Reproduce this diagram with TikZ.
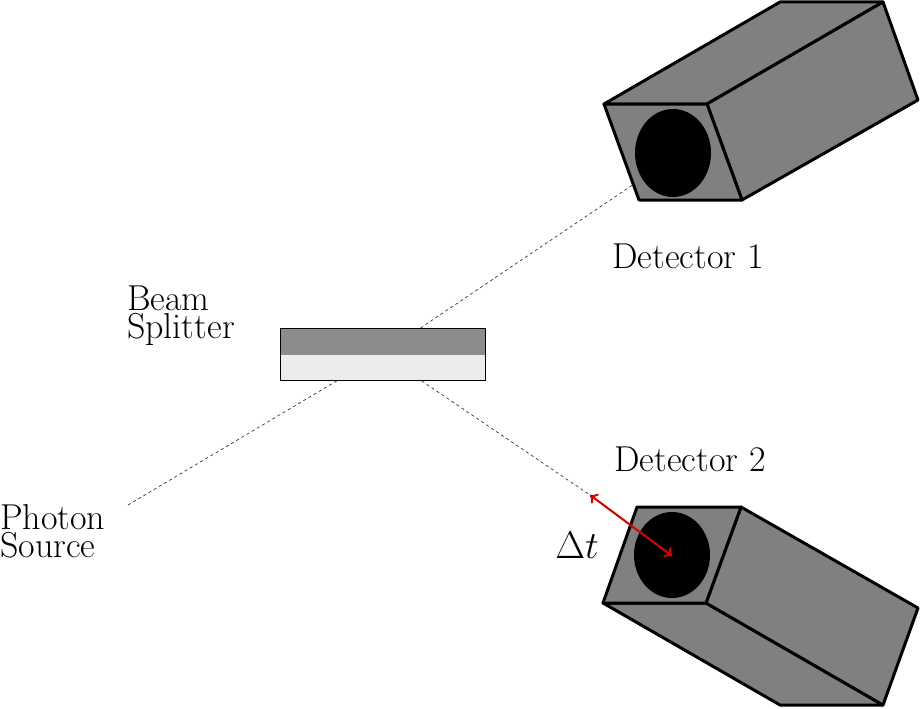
\documentclass[tikz,border=0pt]{standalone}
\usepackage{fontspec}
\usetikzlibrary{arrows.meta}
\begin{document}
\begin{tikzpicture}[x=1pt,y=-1pt,
  box/.style={fill=gray, draw=black, line width=3pt, line join=round},
  beam/.style={dashed, line width=0.7pt, black!80},
  lbl/.style={font=\fontsize{36}{28}\selectfont, align=left, inner sep=0pt}]
\useasboundingbox (0,0) rectangle (921,709);
% beams
\coordinate (src) at (128,505);
\coordinate (c) at (382,354);
\coordinate (d1) at (640,180);
\coordinate (d2) at (590,495);
\draw[beam] (src) -- (c) -- (d1);
\draw[beam] (c) -- (d2);
% beam splitter
\fill[gray!90] (280,328) rectangle (485,355);
\fill[gray!15] (280,355) rectangle (485,380);
\draw[line width=0.8pt] (280,328) rectangle (485,380);
% detector 1
\draw[box] (604,104) -- (780,2) -- (883,2) -- (707,104) -- cycle;
\draw[box] (707,104) -- (883,2) -- (918,100) -- (742,200) -- cycle;
\draw[box] (604,104) -- (707,104) -- (742,200) -- (639,200) -- cycle;
\fill[black] (673,153) ellipse[x radius=38, y radius=44];
% detector 2
\draw[box] (603,603) -- (780,705) -- (883,705) -- (706,603) -- cycle;
\draw[box] (741,507) -- (918,608) -- (883,705) -- (706,603) -- cycle;
\draw[box] (637,507) -- (741,507) -- (706,603) -- (603,603) -- cycle;
\fill[black] (672,555) ellipse[x radius=38, y radius=43];
% delta t
\coordinate (dt) at (672,556);
\draw[red!85!black, line width=2pt, {To[length=7pt,width=12pt]}-{To[length=7pt,width=12pt]}] (d2) -- (dt);
% labels
\node[lbl, anchor=base] (l1) at (688,268) {Detector 1};
\node[lbl, anchor=base] (l2) at (690,471) {Detector 2};
\node[lbl, anchor=base west] (bs) at (127,338) {Beam\\Splitter};
\node[lbl, anchor=base west] (ps) at (0,557) {Photon\\Source};
\node[font=\Huge, scale=1.55, inner sep=0pt] (dtl) at (577,545) {$\Delta t$};
\end{tikzpicture}
\end{document}
